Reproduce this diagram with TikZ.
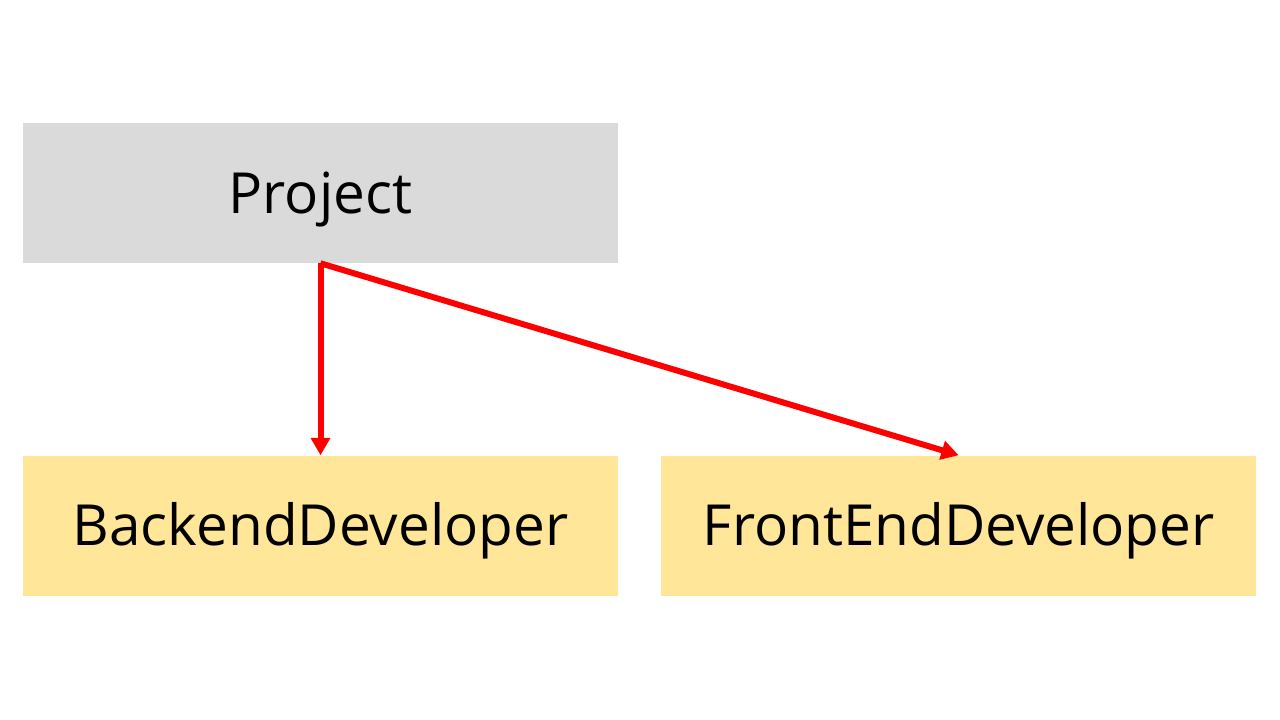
\documentclass[tikz,border=0pt]{standalone}
\usepackage{fontspec}
\setmainfont{Open Sans}
\usetikzlibrary{positioning,arrows.meta}
\definecolor{boxgray}{HTML}{DADADA}
\definecolor{boxgold}{HTML}{FFE699}
\tikzset{classbox/.style={minimum width=446pt,minimum height=105pt,inner sep=0pt,text height=38pt,text depth=7.6pt,font=\fontsize{42.5}{48}\selectfont}}
\tikzset{assoc/.style={-{Triangle[width=14pt,length=13pt]},draw=red,fill=red,line width=4.5pt}}

\begin{document}
\begin{tikzpicture}[x=0.75pt,y=-0.75pt,node distance=144pt and 32.25pt]
  \useasboundingbox[fill=white] (0,0) rectangle (1280,720);
  \node[classbox,fill=boxgray] (project) at (320.5,193) {Project};
  \node[classbox,fill=boxgold] (backend) [below=of project] {BackendDeveloper};
  \node[classbox,fill=boxgold] (frontend) [right=of backend] {FrontEndDeveloper};
  \draw[assoc] (project.south) -- (backend.north);
  \draw[assoc] (project.south) -- (frontend.north);
\end{tikzpicture}
\end{document}
